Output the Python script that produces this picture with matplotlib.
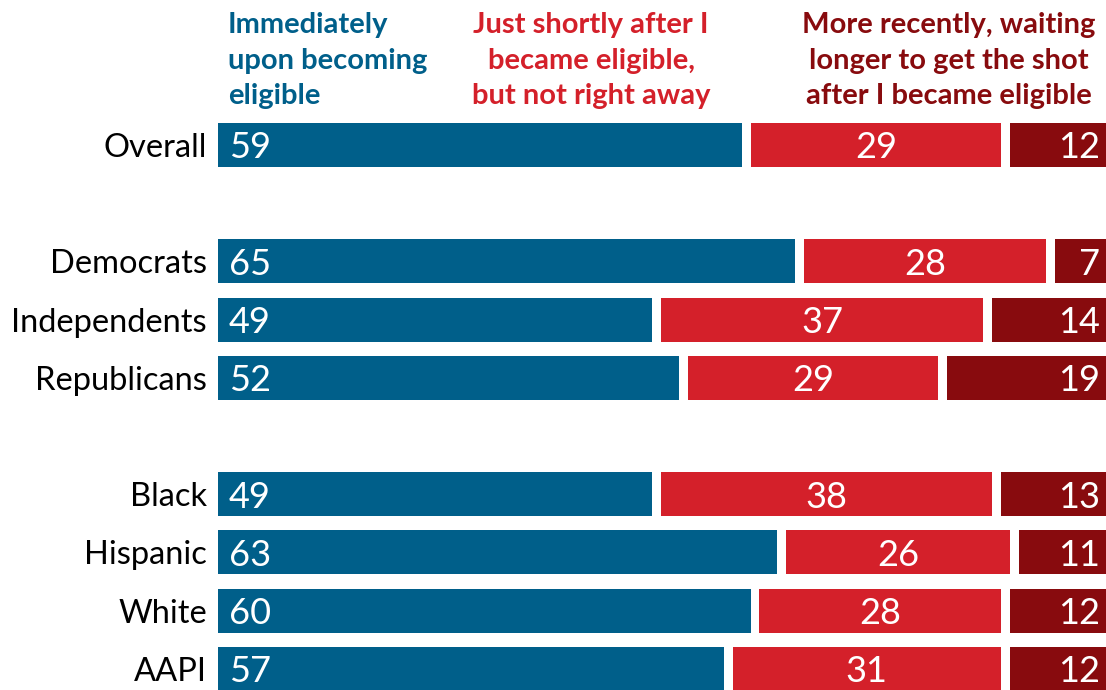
import numpy as np
import matplotlib.pyplot as plt

plt.rcParams['font.family'] = ['Lato', 'DejaVu Sans']

# rows of the chart, blank strings leave the gaps between groups
categories = ['Overall', '', 'Democrats', 'Independents', 'Republicans', '',
              'Black', 'Hispanic', 'White', 'AAPI']
immediately = [59, None, 65, 49, 52, None, 49, 63, 60, 57]
shortly_after = [29, None, 28, 37, 29, None, 38, 26, 28, 31]
more_recently = [12, None, 7, 14, 19, None, 13, 11, 12, 12]

headers = ['Immediately\nupon becoming\neligible',
           'Just shortly after I\nbecame eligible,\nbut not right away',
           'More recently, waiting\nlonger to get the shot\nafter I became eligible']
colors = ['#005f8a', '#d4202a', '#880b0e']

W, H = 1106, 690
fig = plt.figure(figsize=(W / 100, H / 100), dpi=100)
ax = fig.add_axes([218 / W, 0, 1 - 218 / W, 1])

px_per_unit = 8.95
ax.set_xlim(0, (W - 218) / px_per_unit)
pitch = 58.2
ax.set_ylim((H - 145) / pitch, -145 / pitch)
ax.axis('off')

gap = 0.5
bar_h = 44 / pitch
series = [immediately, shortly_after, more_recently]
text_dy = 3 / pitch   # labels sit a touch below bar centre

for i, cat in enumerate(categories):
    if immediately[i] is None:
        continue
    left = 0
    for k, vals in enumerate(series):
        v = vals[i]
        start = left + (gap if k > 0 else 0)
        end = left + v - (gap if k < 2 else 0)
        ax.barh(i, end - start, left=start, height=bar_h, color=colors[k])
        if k == 0:
            ax.text(start + 1.2, i + text_dy, str(v), color='white', fontsize=26,
                    va='center', ha='left')
        elif k == 1:
            ax.text((start + end) / 2, i + text_dy, str(v), color='white',
                    fontsize=26, va='center', ha='center')
        else:
            ax.text((W - 6 - 218) / px_per_unit, i + text_dy, str(v),
                    color='white', fontsize=26, va='center', ha='right')
        left += v
    fig.text(207 / W, 1 - (148 + i * pitch) / H, cat, fontsize=23.5,
             ha='right', va='center', color='black')

# column headers, one line each, 35 px apart
header_x = [228, 591, 949]
header_ha = ['left', 'center', 'center']
for k, head in enumerate(headers):
    for j, line in enumerate(head.split('\n')):
        fig.text(header_x[k] / W, 1 - (25 + j * 35.5) / H, line,
                 color=colors[k], fontsize=21, fontweight='bold',
                 ha=header_ha[k], va='center')

fig.savefig('out.png', dpi=100)
